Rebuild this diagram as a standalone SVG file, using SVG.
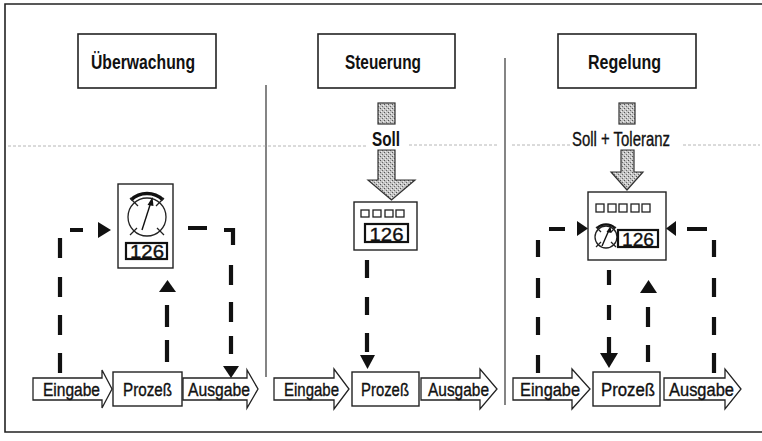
<svg xmlns="http://www.w3.org/2000/svg" width="762" height="441" viewBox="0 0 762 441">
  <defs>
    <pattern id="stipple" width="4" height="4" patternUnits="userSpaceOnUse">
      <rect width="4" height="4" fill="#c4c4c4"/>
      <rect x="0" y="0" width="1" height="1" fill="#555"/>
      <rect x="2" y="2" width="1" height="1" fill="#6a6a6a"/>
      <rect x="3" y="1" width="1" height="1" fill="#f0f0f0"/>
      <rect x="1" y="3" width="1" height="1" fill="#eeeeee"/>
    </pattern>
  </defs>
  <style>
    .frame { fill: none; stroke: #222; stroke-width: 1.6; }
    .divider { fill: none; stroke: #333; stroke-width: 1.2; }
    .fold { fill: none; stroke: #999; stroke-width: 1; stroke-dasharray: 3 2; opacity: 0.7; }
    .title-box { fill: #fff; stroke: #222; stroke-width: 1.6; }
    .title { font-family: "Liberation Sans Narrow", "Liberation Sans", Arial, sans-serif; font-weight: bold; font-size: 20px; fill: #111; }
    .label { font-family: "Liberation Sans Narrow", "Liberation Sans", Arial, sans-serif; font-size: 18px; fill: #111; stroke: #111; stroke-width: 0.35; }
    .setlabel { font-family: "Liberation Sans Narrow", "Liberation Sans", Arial, sans-serif; font-size: 20px; fill: #111; stroke: #111; stroke-width: 0.35; }
    .num { font-family: "Liberation Sans Narrow", "Liberation Sans", Arial, sans-serif; font-size: 19px; fill: #111; stroke: #111; stroke-width: 0.35; }
    .block { fill: #fff; stroke: #222; stroke-width: 1.3; stroke-linejoin: miter; }
    .box { fill: #fff; stroke: #222; stroke-width: 1.4; }
    .numbox { fill: #fff; stroke: #111; stroke-width: 2.2; }
    .key { fill: #fff; stroke: #222; stroke-width: 1.3; }
    .setpoint { fill: url(#stipple); stroke: #333; stroke-width: 1.2; }
    .dash { fill: none; stroke: #111; stroke-width: 4.2; stroke-linecap: butt; }
    .head { fill: #111; stroke: none; }
    .dial { fill: #fff; stroke: #222; stroke-width: 1.3; }
    .dial-arc { fill: none; stroke: #111; stroke-width: 3.4; }
    .tick { fill: none; stroke: #222; stroke-width: 1.3; }
    .needle { fill: none; stroke: #111; stroke-width: 1.4; }
  </style>

  <rect width="762" height="441" fill="#fff"/>

  <!-- outer frame, open to the right -->
  <path class="frame" d="M762,4 H5 V432 H762"/>

  <!-- column dividers -->
  <line class="divider" x1="266" y1="85" x2="266" y2="377"/>
  <line class="divider" x1="505" y1="58" x2="505" y2="405"/>

  <!-- faint crease line -->
  <path class="fold" d="M8,146 H366 M409,145 H497 M512,145 H570 M683,145 H760"/>

  <!-- ===== Überwachung ===== -->
  <g id="title-ueberwachung">
    <rect class="title-box" x="78" y="34" width="138" height="54"/>
    <text class="title" x="91" y="69" textLength="104" lengthAdjust="spacingAndGlyphs">Überwachung</text>
  </g>

  <g id="meter-ueberwachung">
    <rect class="box" x="118" y="184" width="55" height="84"/>
    <circle class="dial" cx="147" cy="217" r="19"/>
    <path class="dial-arc" d="M131,200 A23,23 0 0 1 163,200"/>
    <path class="tick" d="M130,198 L138,206 M164,198 L156,206 M130,235 L137,228 M164,235 L157,228"/>
    <path class="needle" d="M142,230 L151,202"/>
    <polygon class="head" points="152.5,197 147.5,205 153.5,206"/>
    <rect class="numbox" x="126" y="243" width="41" height="16"/>
    <text class="num" x="147" y="258" text-anchor="middle" textLength="34" lengthAdjust="spacingAndGlyphs">126</text>
  </g>

  <g id="eingabe-ueberwachung">
    <path class="block" d="M33,378 H102 V370 L112,389 L102,408 V400 H33 Z"/>
    <text class="label" x="43" y="396" textLength="57" lengthAdjust="spacingAndGlyphs">Eingabe</text>
  </g>
  <g id="prozess-ueberwachung">
    <rect class="box" x="113" y="372" width="69" height="34"/>
    <text class="label" x="123" y="396" textLength="49" lengthAdjust="spacingAndGlyphs">Prozeß</text>
  </g>
  <g id="ausgabe-ueberwachung">
    <path class="block" d="M183,378 H247 V370 L258,389 L247,408 V400 H183 Z"/>
    <text class="label" x="188" y="396" textLength="62" lengthAdjust="spacingAndGlyphs">Ausgabe</text>
  </g>

  <!-- ===== Steuerung ===== -->
  <g id="title-steuerung">
    <rect class="title-box" x="318" y="34" width="137" height="54"/>
    <text class="title" x="345" y="69" textLength="76" lengthAdjust="spacingAndGlyphs">Steuerung</text>
  </g>

  <g id="soll-steuerung">
    <rect class="setpoint" x="378" y="103" width="17" height="21"/>
    <polygon class="setpoint" points="378,150 395,150 395,180 415,180 391.5,200 368,180 378,180"/>
    <text class="title" x="372" y="146" textLength="28" lengthAdjust="spacingAndGlyphs">Soll</text>
  </g>

  <g id="controller-steuerung">
    <rect class="box" x="354" y="202" width="63" height="48"/>
    <rect class="key" x="361" y="210" width="8" height="7"/>
    <rect class="key" x="373" y="210" width="8" height="7"/>
    <rect class="key" x="385" y="210" width="8" height="7"/>
    <rect class="key" x="396" y="210" width="8" height="7"/>
    <rect class="numbox" x="365" y="224" width="43" height="18"/>
    <text class="num" x="386.5" y="240.5" text-anchor="middle" textLength="34" lengthAdjust="spacingAndGlyphs">126</text>
  </g>

  <g id="eingabe-steuerung">
    <path class="block" d="M274,378 H334 V369 L349,389 L334,409 V400 H274 Z"/>
    <text class="label" x="284" y="396" textLength="55" lengthAdjust="spacingAndGlyphs">Eingabe</text>
  </g>
  <g id="prozess-steuerung">
    <rect class="box" x="352" y="372" width="67" height="34"/>
    <text class="label" x="361" y="396" textLength="48" lengthAdjust="spacingAndGlyphs">Prozeß</text>
  </g>
  <g id="ausgabe-steuerung">
    <path class="block" d="M421,378 H480 V369 L497,389 L480,409 V400 H421 Z"/>
    <text class="label" x="428" y="396" textLength="61" lengthAdjust="spacingAndGlyphs">Ausgabe</text>
  </g>

  <!-- ===== Regelung ===== -->
  <g id="title-regelung">
    <rect class="title-box" x="558" y="34" width="138" height="54"/>
    <text class="title" x="588" y="69" textLength="73" lengthAdjust="spacingAndGlyphs">Regelung</text>
  </g>

  <g id="soll-regelung">
    <rect class="setpoint" x="619" y="103" width="16" height="21"/>
    <polygon class="setpoint" points="621,150 634,150 634,172 643,172 627,190 611,172 621,172"/>
    <text class="setlabel" x="572" y="146" textLength="98" lengthAdjust="spacingAndGlyphs">Soll + Toleranz</text>
  </g>

  <g id="controller-regelung">
    <rect class="box" x="588" y="192" width="78" height="68"/>
    <rect class="key" x="596" y="204" width="8" height="8"/>
    <rect class="key" x="608" y="204" width="8" height="8"/>
    <rect class="key" x="619" y="204" width="8" height="8"/>
    <rect class="key" x="631" y="204" width="8" height="8"/>
    <rect class="key" x="642" y="204" width="8" height="8"/>
    <circle class="dial" cx="606" cy="237" r="11"/>
    <path class="dial-arc" d="M597,228 A13,13 0 0 1 615,228" style="stroke-width:2.4"/>
    <path class="tick" d="M596,227 L601,232 M616,227 L611,232 M596,247 L601,242 M616,247 L611,242"/>
    <path class="needle" d="M602,246 L609,230"/>
    <polygon class="head" points="610.5,226 606.5,232 611.5,233"/>
    <rect class="numbox" x="618" y="230" width="40" height="17"/>
    <text class="num" x="638" y="246" text-anchor="middle" textLength="32" lengthAdjust="spacingAndGlyphs">126</text>
  </g>

  <g id="eingabe-regelung">
    <path class="block" d="M513,378 H572 V369 L590,389 L572,409 V400 H513 Z"/>
    <text class="label" x="520" y="396" textLength="60" lengthAdjust="spacingAndGlyphs">Eingabe</text>
  </g>
  <g id="prozess-regelung">
    <rect class="box" x="593" y="372" width="67" height="34"/>
    <text class="label" x="601" y="396" textLength="54" lengthAdjust="spacingAndGlyphs">Prozeß</text>
  </g>
  <g id="ausgabe-regelung">
    <path class="block" d="M664,378 H725 V369 L741,389 L725,409 V400 H664 Z"/>
    <text class="label" x="669" y="396" textLength="65" lengthAdjust="spacingAndGlyphs">Ausgabe</text>
  </g>

  <!-- ===== dashed signal connectors ===== -->
  <g id="connectors">
    <!-- Überwachung: input to meter -->
    <path class="dash" d="M60,373 V353 M60,335 V315 M60,297 V277 M60,258 V238 M70,230 H83"/>
    <polygon class="head" points="98,222 98,238 111,230"/>
    <!-- Überwachung: process to meter -->
    <path class="dash" d="M167,362 V340 M167,327 V305"/>
    <polygon class="head" points="159,292 176,292 167.5,280"/>
    <!-- Überwachung: meter to output -->
    <path class="dash" d="M188,228 H207 M224,230 H233 V245 M231,265 V285 M231,302 V322 M231,336 V354"/>
    <polygon class="head" points="223,366 239,366 231,378"/>

    <!-- Steuerung: controller to process -->
    <path class="dash" d="M367,260 V278 M367,297 V315 M367,333 V352"/>
    <polygon class="head" points="360,355 375,355 367.5,369"/>

    <!-- Regelung: input to controller -->
    <path class="dash" d="M538,373 V355 M538,335 V317 M538,298 V278 M538,257 V240 M549,229 H565"/>
    <polygon class="head" points="577,221 577,236 588,228.5"/>
    <!-- Regelung: output to controller -->
    <path class="dash" d="M714,373 V353 M714,335 V317 M714,297 V278 M714,257 V240 M687,229 H707"/>
    <polygon class="head" points="676,221 676,236 666,228.5"/>
    <!-- Regelung: controller to process -->
    <path class="dash" d="M609,270 V285 M609,305 V320 M609,337 V355"/>
    <polygon class="head" points="600,353 618,353 609,368"/>
    <!-- Regelung: process to controller -->
    <path class="dash" d="M648,362 V345 M648,327 V307"/>
    <polygon class="head" points="640,293 657,293 648.5,280"/>
  </g>
</svg>
